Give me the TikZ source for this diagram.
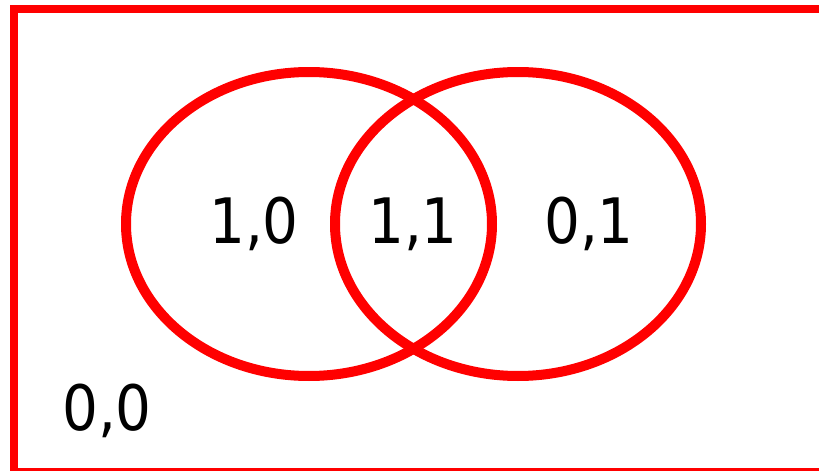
\documentclass[tikz,border=0pt]{standalone}
\usepackage{fontspec}
\setmainfont{DejaVu Sans Condensed}
\usetikzlibrary{positioning}

\begin{document}
\begin{tikzpicture}[x=0.75pt, y=-0.75pt,
    ring/.style={draw=red, line width=7.5pt},
    region/.style={anchor=base, inner sep=0pt, font=\fontsize{47}{47}\selectfont}]
    % Canvas
    \useasboundingbox (0, 0) rectangle (819, 471);

    % Frame
    \draw[draw=red, line width=6pt] (14, 9) rectangle (840, 472);

    % Sets
    \draw[ring] (309, 224) ellipse [x radius=183, y radius=152];
    \draw[ring] (518, 224) ellipse [x radius=183, y radius=152];

    % Labels
    \node[region] (lab10) at ({254}, {243}) {1,0};
    \node[region] (lab11) at ({413}, {243}) {1,1};
    \node[region] (lab01) at ({589}, {243}) {0,1};
    \node[region] (lab00) at ({107}, {430}) {0,0};
\end{tikzpicture}
\end{document}
